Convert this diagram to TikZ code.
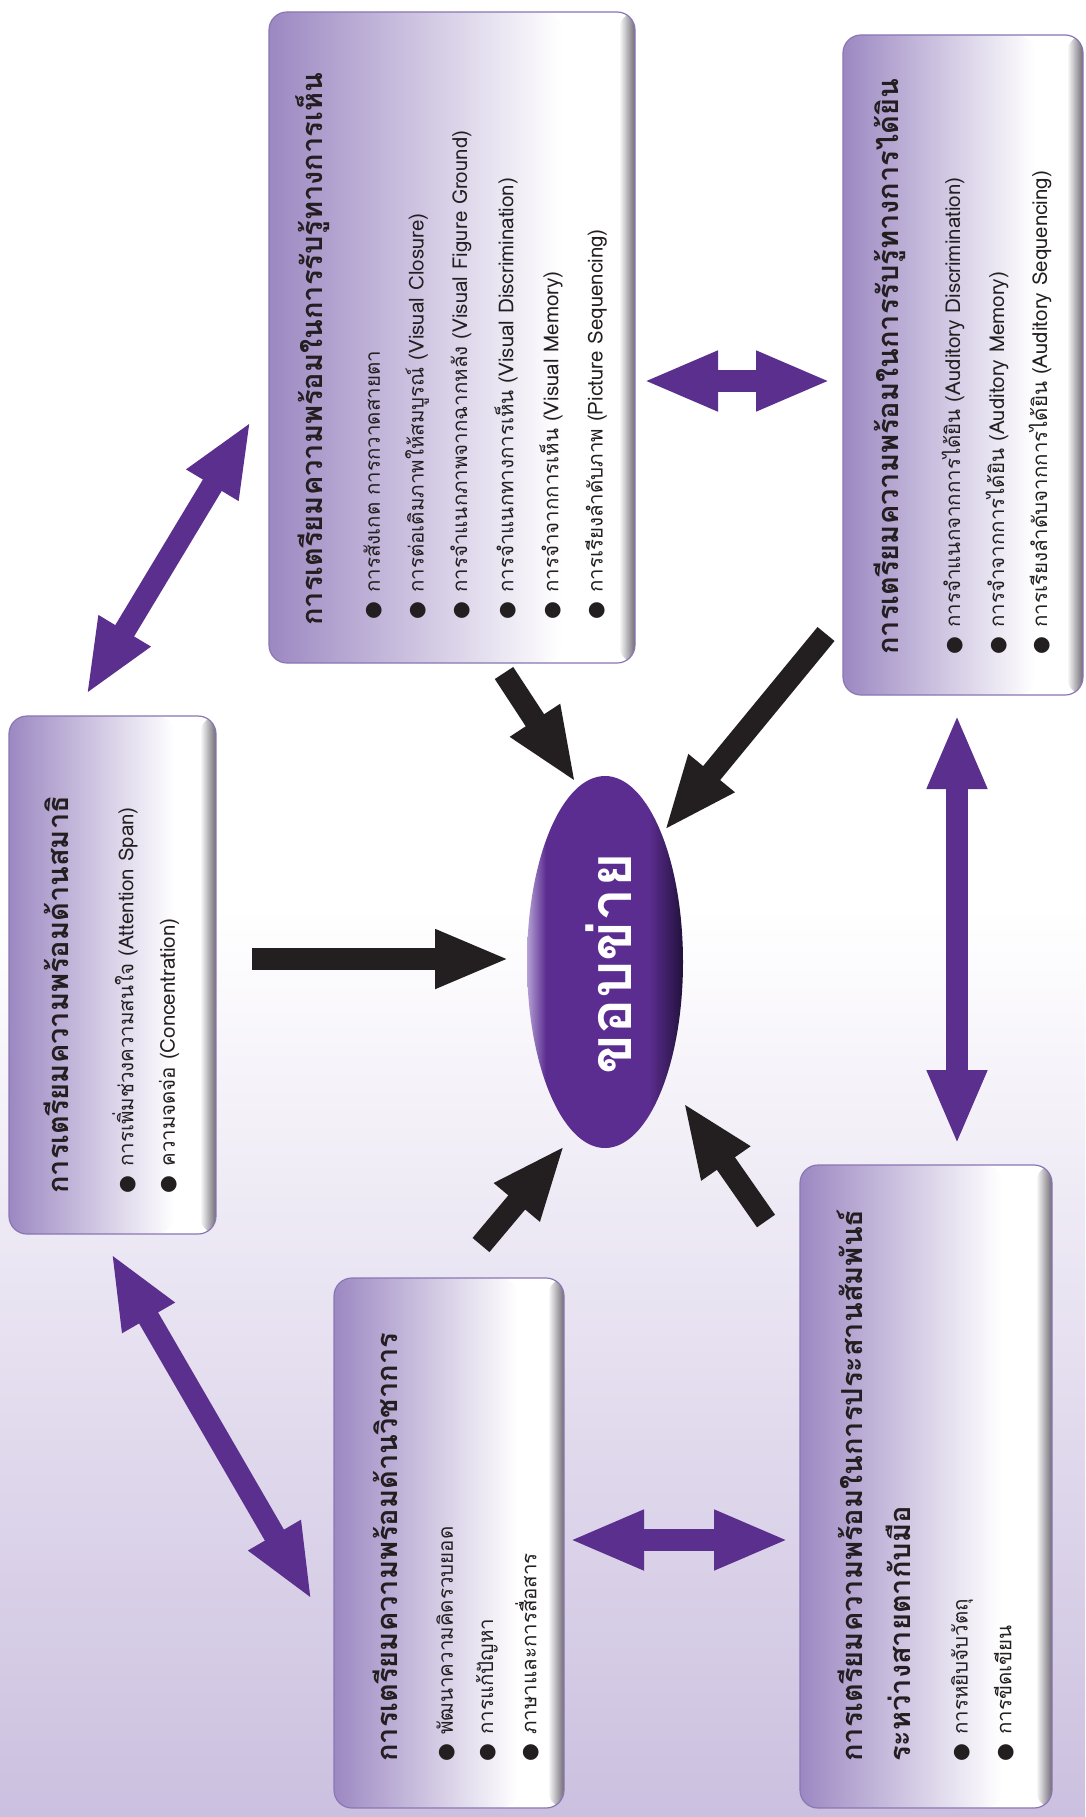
\documentclass[tikz,border=0pt]{standalone}
\usepackage{fontspec}
\setmainfont{Liberation Sans}
\newfontfamily\thf[Script=Thai]{Loma}
\newfontfamily\symf{DejaVu Sans}
\usetikzlibrary{arrows.meta,shapes.geometric,calc}
\definecolor{arrowpurple}{HTML}{5B2F8E}
\definecolor{arrowblack}{HTML}{231F20}
\definecolor{bxA}{HTML}{9C88C2}
\definecolor{bxD}{HTML}{6F6B73}
\definecolor{bdr}{HTML}{8A76B3}
\definecolor{bgbot}{HTML}{CBC0DF}
\definecolor{bgmid}{HTML}{E6E0F0}
\definecolor{ellL}{HTML}{B6A2D6}
\definecolor{ellM}{HTML}{5B2D90}
\definecolor{ellD}{HTML}{22113C}
\definecolor{txtc}{HTML}{231F20}
\pgfdeclareverticalshading{bgshade}{100bp}{color(0bp)=(bgbot); color(25bp)=(bgbot); color(38bp)=(bgmid); color(50bp)=(white); color(100bp)=(white)}
\pgfdeclarehorizontalshading{ellshade}{100bp}{color(0bp)=(ellL); color(25bp)=(ellL); color(31bp)=(ellM); color(64bp)=(ellM); color(75bp)=(ellD); color(100bp)=(ellD)}
\newcommand\itm[1]{{\symf ●}\hspace{0.45em}#1}
\tikzset{
  boxbg/.style={draw=bdr, line width=1.2pt, rounded corners=18pt, inner sep=0pt,
    path picture={
      \coordinate (sw) at (path picture bounding box.south west);
      \coordinate (ne) at (path picture bounding box.north east);
      \fill[white] (sw) rectangle (ne);
      \shade[left color=bxA, right color=white] (sw) rectangle ($(sw|-ne)!0.8!(ne)$);
      \shade[left color=white, right color=bxD] ($(ne|-sw)+(-16pt,0pt)$) rectangle (ne);
    }},
  tx/.style={rotate=90, inner sep=0pt, text=txtc, anchor=west, font=\fontsize{20.5}{24}\selectfont},
  ttl/.style={tx, font=\thf\bfseries\fontsize{29}{34}\selectfont},
  blk/.style={draw=arrowblack, line width=22pt, -{Triangle[length=75pt,width=54pt]}},
  purp/.style={draw=arrowpurple, line width=22pt, {Triangle[length=75pt,width=55pt]}-{Triangle[length=75pt,width=55pt]}}
}
\begin{document}
\begin{tikzpicture}[x=1pt,y=-1pt]
\useasboundingbox (0,0) rectangle (1085,1817);
\shade[shading=bgshade] (0,0) rectangle (1085,1817);

% boxes
\node[boxbg, minimum width=366pt, minimum height=651pt] (b1) at (452,337.5) {};
\node[boxbg, minimum width=240pt, minimum height=660pt] (b2) at (963,365) {};
\node[boxbg, minimum width=207pt, minimum height=518pt] (b3) at (112.5,975) {};
\node[boxbg, minimum width=230pt, minimum height=530pt] (b4) at (449,1543) {};
\node[boxbg, minimum width=252pt, minimum height=643pt] (b5) at (926,1486.5) {};

% box 1
\node[ttl] (b1t) at (313,626) {การเตรียมความพร้อมในการรับรู้ทางการเห็น};
\node[tx] (b1i1) at (373,620) {\itm{\thf การสังเกต การกวาดสายตา}};
\node[tx] (b1i2) at (417,620) {\itm{\thf การต่อเติมภาพให้สมบูรณ์} (Visual Closure)};
\node[tx] (b1i3) at (461,620) {\itm{\thf การจำแนกภาพจากฉากหลัง} (Visual Figure Ground)};
\node[tx] (b1i4) at (506,620) {\itm{\thf การจำแนกทางการเห็น} (Visual Discrimination)};
\node[tx] (b1i5) at (551,620) {\itm{\thf การจำจากการเห็น} (Visual Memory)};
\node[tx] (b1i6) at (596,620) {\itm{\thf การเรียงลำดับภาพ} (Picture Sequencing)};

% box 2
\node[ttl] (b2t) at (890,655) {การเตรียมความพร้อมในการรับรู้ทางการได้ยิน};
\node[tx] (b2i1) at (953,655) {\itm{\thf การจำแนกจากการได้ยิน} (Auditory Discrimination)};
\node[tx] (b2i2) at (997,655) {\itm{\thf การจำจากการได้ยิน} (Auditory Memory)};
\node[tx] (b2i3) at (1040,655) {\itm{\thf การเรียงลำดับจากการได้ยิน} (Auditory Sequencing)};

% box 3
\node[ttl] (b3t) at (56,1194) {การเตรียมความพร้อมด้านสมาธิ};
\node[tx] (b3i1) at (125,1194) {\itm{\thf การเพิ่มช่วงความสนใจ} (Attention Span)};
\node[tx] (b3i2) at (169,1194) {\itm{\thf ความจดจ่อ} (Concentration)};

% box 4
\node[ttl] (b4t) at (385,1762) {การเตรียมความพร้อมด้านวิชาการ};
\node[tx] (b4i1) at (446,1762) {\itm{\thf พัฒนาความคิดรวบยอด}};
\node[tx] (b4i2) at (487,1762) {\itm{\thf การแก้ปัญหา}};
\node[tx] (b4i3) at (527,1762) {\itm{\thf ภาษาและการสื่อสาร}};

% box 5
\node[ttl] (b5t1) at (850,1762) {การเตรียมความพร้อมในการประสานสัมพันธ์};
\node[ttl] (b5t2) at (898,1762) {ระหว่างสายตากับมือ};
\node[tx] (b5i1) at (962,1762) {\itm{\thf การหยิบจับวัตถุ}};
\node[tx] (b5i2) at (1004,1762) {\itm{\thf การขีดเขียน}};

% centre
\node[ellipse, draw=none, minimum width=156pt, minimum height=372pt, inner sep=0pt,
  path picture={\shade[shading=ellshade] (path picture bounding box.south west) rectangle (path picture bounding box.north east);}] (core) at (605,962) {};
\node[rotate=90, text=white, font=\thf\bfseries\fontsize{59}{64}\selectfont] (coret) at (609,964) {ขอบข่าย};

% arrow end points
\coordinate (a3s) at (252,959); \coordinate (a3e) at (510,959);
\coordinate (a1s) at (504,673); \coordinate (a1e) at (576,783);
\coordinate (a2s) at (826,634); \coordinate (a2e) at (664,831);
\coordinate (a4s) at (481,1245); \coordinate (a4e) at (565,1145);
\coordinate (a5s) at (766,1221); \coordinate (a5e) at (683,1102);
\coordinate (p13a) at (86,695); \coordinate (p13b) at (251,421);
\coordinate (p12a) at (643,381); \coordinate (p12b) at (831,381);
\coordinate (p25a) at (957,714); \coordinate (p25b) at (957,1145);
\coordinate (p54a) at (569,1540); \coordinate (p54b) at (789,1540);
\coordinate (p43a) at (111,1253); \coordinate (p43b) at (312,1600);

\draw[blk] (a3s) -- (a3e);
\draw[blk] (a1s) -- (a1e);
\draw[blk] (a2s) -- (a2e);
\draw[blk] (a4s) -- (a4e);
\draw[blk] (a5s) -- (a5e);
\draw[purp] (p13a) -- (p13b);
\draw[purp] (p12a) -- (p12b);
\draw[purp] (p25a) -- (p25b);
\draw[purp] (p54a) -- (p54b);
\draw[purp] (p43a) -- (p43b);
\end{tikzpicture}
\end{document}
